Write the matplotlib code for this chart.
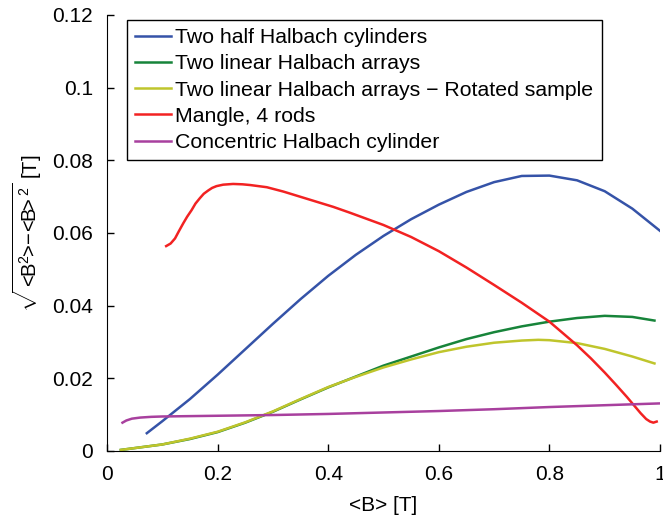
import matplotlib
matplotlib.use("Agg")
import matplotlib.pyplot as plt
import numpy as np

plt.rcParams['font.family'] = ['Liberation Sans', 'DejaVu Sans']
plt.rcParams['mathtext.fontset'] = 'custom'
plt.rcParams['mathtext.rm'] = 'Liberation Sans'
plt.rcParams['mathtext.it'] = 'Liberation Sans'

# two half Halbach cylinders
blue_x = [0.072, 0.1, 0.15, 0.2, 0.25, 0.3, 0.35, 0.4, 0.45, 0.5, 0.55, 0.6, 0.65, 0.7, 0.75, 0.8, 0.85, 0.9, 0.95, 1.0]
blue_y = [0.0049, 0.0082, 0.0143, 0.021, 0.028, 0.035, 0.0418, 0.0482, 0.054, 0.0592, 0.0638, 0.0678, 0.0713, 0.0740, 0.0757, 0.0758, 0.0745, 0.0715, 0.0667, 0.0606]

# two linear Halbach arrays
green_x = [0.025, 0.05, 0.1, 0.15, 0.2, 0.25, 0.3, 0.35, 0.4, 0.45, 0.5, 0.55, 0.6, 0.65, 0.7, 0.75, 0.8, 0.85, 0.9, 0.95, 0.99]
green_y = [0.0003, 0.0008, 0.0018, 0.0033, 0.0052, 0.0078, 0.0108, 0.0142, 0.0175, 0.0205, 0.0235, 0.026, 0.0285, 0.0308, 0.0327, 0.0343, 0.0356, 0.0366, 0.0372, 0.0369, 0.0359]

# rotated sample
yellow_x = [0.025, 0.05, 0.1, 0.15, 0.2, 0.25, 0.3, 0.35, 0.4, 0.45, 0.5, 0.55, 0.6, 0.65, 0.7, 0.75, 0.78, 0.8, 0.85, 0.9, 0.95, 0.99]
yellow_y = [0.0003, 0.0008, 0.0018, 0.0034, 0.0053, 0.0079, 0.0109, 0.0143, 0.0176, 0.0204, 0.023, 0.0252, 0.0272, 0.0287, 0.0298, 0.0304, 0.0306, 0.0305, 0.0297, 0.0281, 0.026, 0.0241]

# mangle, 4 rods
red_x = [0.107, 0.115, 0.123, 0.13, 0.138, 0.145, 0.153, 0.16, 0.168, 0.175, 0.183, 0.19, 0.198, 0.21, 0.228, 0.245, 0.259, 0.289,
         0.319, 0.349, 0.379, 0.409, 0.439, 0.5, 0.55, 0.6, 0.65, 0.7, 0.75, 0.8, 0.85, 0.875, 0.9, 0.92, 0.94, 0.955, 0.965,
         0.975, 0.982, 0.988, 0.994]
red_y = [0.0564, 0.0571, 0.0585, 0.0605, 0.0627, 0.0645, 0.0663, 0.0681, 0.0696, 0.0708, 0.0717, 0.0724, 0.0729, 0.0733, 0.0735, 0.0734, 0.0732, 0.0726,
         0.0714, 0.0700, 0.0686, 0.0672, 0.0656, 0.0622, 0.0589, 0.0550, 0.0505, 0.0457, 0.0408, 0.0356, 0.0291, 0.0255, 0.0216, 0.0183, 0.0149, 0.0122, 0.0104,
         0.0088, 0.0081, 0.0078, 0.0081]

# concentric Halbach cylinder
purple_x = [0.028, 0.035, 0.045, 0.06, 0.08, 0.1, 0.2, 0.3, 0.4, 0.5, 0.6, 0.7, 0.8, 0.9, 1.0]
purple_y = [0.0078, 0.0084, 0.0089, 0.0092, 0.0094, 0.0095, 0.0097, 0.0099, 0.0102, 0.0106, 0.0110, 0.0115, 0.0121, 0.0126, 0.0131]

labels = ["Two half Halbach cylinders", "Two linear Halbach arrays",
          "Two linear Halbach arrays \u2212 Rotated sample", "Mangle, 4 rods",
          "Concentric Halbach cylinder"]
colors = ['#3553a8', '#17843a', '#bfc52c', '#f22222', '#a8409e']

fig = plt.figure(figsize=(6.63, 5.16), dpi=100)
ax = fig.add_axes([107/663, 1-451/516, 553/663, 436/516])

series = [(blue_x, blue_y), (green_x, green_y), (yellow_x, yellow_y), (red_x, red_y), (purple_x, purple_y)]
for (x, y), c, lab in zip(series, colors, labels):
    ax.plot(x, y, color=c, lw=1.8, label=lab, solid_joinstyle='round')

ax.set_xlim(0, 1)
ax.set_ylim(0, 0.12)
ax.set_xticks([0, 0.2, 0.4, 0.6, 0.8, 1])
ax.set_xticklabels(['0', '0.2', '0.4', '0.6', '0.8', '1'])
ax.set_yticks([0, 0.02, 0.04, 0.06, 0.08, 0.1, 0.12])
ax.set_yticklabels(['0', '0.02', '0.04', '0.06', '0.08', '0.1', '0.12'])
ax.spines['top'].set_visible(False)
ax.spines['right'].set_visible(False)
ax.tick_params(direction='in', labelsize=15, length=5, width=1, pad=10)
ax.set_xlabel('<B> [T]', fontsize=15, labelpad=9)
ax.set_ylabel(r'$\sqrt{\mathrm{<\!\!B^2\!\!>\!\!-\!\!<\!\!B\!\!>^2}}$ [T]', fontsize=14.5, labelpad=6)

leg = ax.legend(loc='upper left', bbox_to_anchor=(127/663, 1-20/516), bbox_transform=fig.transFigure,
                borderaxespad=0, fontsize=15.3, fancybox=False, framealpha=1, edgecolor='black',
                handlelength=1.7, handletextpad=0.2, labelspacing=0.34, borderpad=0.38)
leg.get_frame().set_linewidth(1.0)

fig.savefig('out.png', dpi=100)
